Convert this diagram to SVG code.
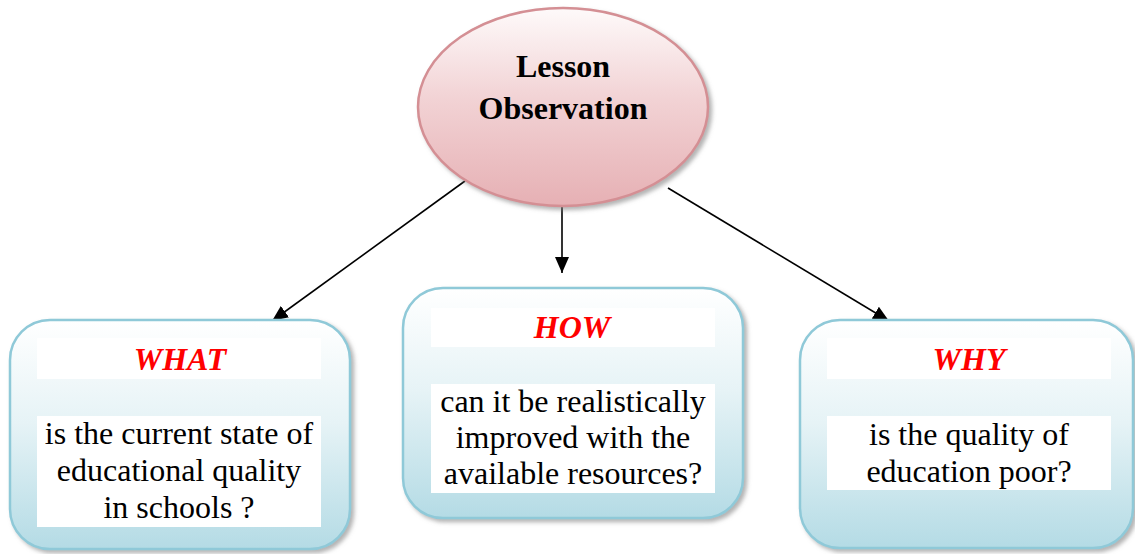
<svg xmlns="http://www.w3.org/2000/svg" width="1135" height="554" viewBox="0 0 1135 554">
<style>
.box{fill:url(#gb);stroke:#8fc9d8;stroke-width:2.5;filter:url(#sh)}
.strip{fill:#ffffff}
text{font-family:"Liberation Serif","Times New Roman",serif;text-anchor:middle}
.head{font-weight:bold;font-style:italic;font-size:32px;fill:#ff0000}
.body{font-size:32px;fill:#000}
.title{font-weight:bold;font-size:32px;fill:#000}
.conn{stroke:#000;stroke-width:1.6;fill:none;marker-end:url(#ah)}
</style>
<defs>
<linearGradient id="gb" x1="0" y1="0" x2="0" y2="1">
<stop offset="0" stop-color="#ffffff"/>
<stop offset="0.45" stop-color="#e6f3f6"/>
<stop offset="1" stop-color="#b4dbe5"/>
</linearGradient>
<linearGradient id="ge" x1="0" y1="0" x2="0" y2="1">
<stop offset="0" stop-color="#fefafa"/>
<stop offset="0.45" stop-color="#f2d3d5"/>
<stop offset="1" stop-color="#e6b0b4"/>
</linearGradient>
<filter id="sh" x="-10%" y="-10%" width="125%" height="125%">
<feDropShadow dx="3" dy="3" stdDeviation="2" flood-color="#808080" flood-opacity="0.6"/>
</filter>
<marker id="ah" viewBox="0 0 16 14" refX="16" refY="7" markerWidth="16" markerHeight="14" markerUnits="userSpaceOnUse" orient="auto">
<path d="M0,0 L16,7 L0,14 z" fill="#000"/>
</marker>
</defs>
<g id="connectors">
<line class="conn" x1="465" y1="181" x2="272" y2="321"/>
<line class="conn" x1="562" y1="205" x2="562" y2="273"/>
<line class="conn" x1="668" y1="188" x2="889" y2="321"/>
</g>
<g id="lesson-observation">
<ellipse cx="563" cy="107" rx="145" ry="99" fill="url(#ge)" stroke="#d48f94" stroke-width="2.5" filter="url(#sh)"/>
<text class="title" x="563" y="77">Lesson</text>
<text class="title" x="563" y="119">Observation</text>
</g>
<g id="what">
<rect class="box" x="10" y="320" width="340" height="229" rx="40"/>
<rect class="strip" x="37" y="338" width="284" height="41"/>
<text class="head" x="180" y="370">WHAT</text>
<rect class="strip" x="37" y="416" width="284" height="111"/>
<text class="body" x="179" y="444">is the current state of</text>
<text class="body" x="179" y="481">educational quality</text>
<text class="body" x="179" y="518">in schools ?</text>
</g>
<g id="how">
<rect class="box" x="403" y="288" width="340" height="230" rx="40"/>
<rect class="strip" x="431" y="308" width="284" height="39"/>
<text class="head" x="572" y="338">HOW</text>
<rect class="strip" x="431" y="384" width="284" height="109"/>
<text class="body" x="573" y="412">can it be realistically</text>
<text class="body" x="573" y="448">improved with the</text>
<text class="body" x="573" y="484">available resources?</text>
</g>
<g id="why">
<rect class="box" x="800" y="320" width="333" height="228" rx="40"/>
<rect class="strip" x="827" y="338" width="284" height="41"/>
<text class="head" x="969" y="370">WHY</text>
<rect class="strip" x="827" y="416" width="284" height="74"/>
<text class="body" x="969" y="445">is the quality of</text>
<text class="body" x="969" y="482">education poor?</text>
</g>
</svg>
